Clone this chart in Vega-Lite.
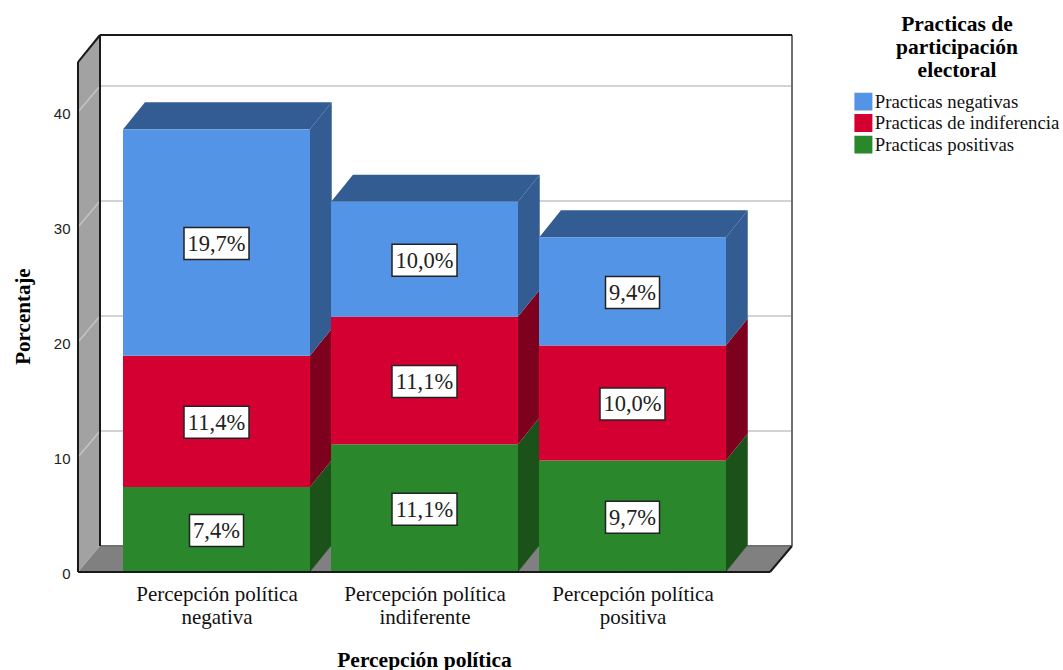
{
"$schema":"https://vega.github.io/schema/vega-lite/v6.json",
"width":714,"height":537,
"autosize":"none",
"padding":{"left":78,"top":35,"right":271,"bottom":98},
"background":"white",
"config":{"view":{"stroke":null}},
"datasets":{
"barras":[
{"orden":1,"percepcion":"Percepción política negativa","practica":"Practicas positivas","valor":7.4,"inicio":0,"fin":7.4,"centro":3.7,"etiqueta":"7,4%"},
{"orden":1,"percepcion":"Percepción política negativa","practica":"Practicas de indiferencia","valor":11.4,"inicio":7.4,"fin":18.8,"centro":13.1,"etiqueta":"11,4%"},
{"orden":1,"percepcion":"Percepción política negativa","practica":"Practicas negativas","valor":19.7,"inicio":18.8,"fin":38.5,"centro":28.65,"etiqueta":"19,7%"},
{"orden":2,"percepcion":"Percepción política indiferente","practica":"Practicas positivas","valor":11.1,"inicio":0,"fin":11.1,"centro":5.55,"etiqueta":"11,1%"},
{"orden":2,"percepcion":"Percepción política indiferente","practica":"Practicas de indiferencia","valor":11.1,"inicio":11.1,"fin":22.2,"centro":16.65,"etiqueta":"11,1%"},
{"orden":2,"percepcion":"Percepción política indiferente","practica":"Practicas negativas","valor":10.0,"inicio":22.2,"fin":32.2,"centro":27.2,"etiqueta":"10,0%"},
{"orden":3,"percepcion":"Percepción política positiva","practica":"Practicas positivas","valor":9.7,"inicio":0,"fin":9.7,"centro":4.85,"etiqueta":"9,7%"},
{"orden":3,"percepcion":"Percepción política positiva","practica":"Practicas de indiferencia","valor":10.0,"inicio":9.7,"fin":19.7,"centro":14.7,"etiqueta":"10,0%"},
{"orden":3,"percepcion":"Percepción política positiva","practica":"Practicas negativas","valor":9.4,"inicio":19.7,"fin":29.1,"centro":24.4,"etiqueta":"9,4%"}
],
"caras":[
{"cara":"pared","parte":"pared","x":0.3341,"y":0,"y2":44.35},
{"cara":"pared","parte":"pared","x":0.4399,"y":2.26,"y2":46.7},
{"cara":"suelo","parte":"suelo","x":0.3341,"y":0,"y2":0},
{"cara":"suelo","parte":"suelo","x":0.4399,"y":0,"y2":2.26},
{"cara":"suelo","parte":"suelo","x":3.6611,"y":0,"y2":2.26},
{"cara":"suelo","parte":"suelo","x":3.7668,"y":2.26,"y2":2.26},
{"cara":"l1p","parte":"Practicas positivas","x":1.449,"y":0,"y2":7.4},
{"cara":"l1p","parte":"Practicas positivas","x":1.554,"y":2.35,"y2":9.75},
{"cara":"l1i","parte":"Practicas de indiferencia","x":1.449,"y":7.4,"y2":18.8},
{"cara":"l1i","parte":"Practicas de indiferencia","x":1.554,"y":9.75,"y2":21.15},
{"cara":"l1n","parte":"Practicas negativas","x":1.449,"y":18.8,"y2":38.5},
{"cara":"l1n","parte":"Practicas negativas","x":1.554,"y":21.15,"y2":40.85},
{"cara":"l2p","parte":"Practicas positivas","x":2.449,"y":0,"y2":11.1},
{"cara":"l2p","parte":"Practicas positivas","x":2.554,"y":2.35,"y2":13.45},
{"cara":"l2i","parte":"Practicas de indiferencia","x":2.449,"y":11.1,"y2":22.2},
{"cara":"l2i","parte":"Practicas de indiferencia","x":2.554,"y":13.45,"y2":24.55},
{"cara":"l2n","parte":"Practicas negativas","x":2.449,"y":22.2,"y2":32.2},
{"cara":"l2n","parte":"Practicas negativas","x":2.554,"y":24.55,"y2":34.55},
{"cara":"l3p","parte":"Practicas positivas","x":3.449,"y":0,"y2":9.7},
{"cara":"l3p","parte":"Practicas positivas","x":3.554,"y":2.35,"y2":12.05},
{"cara":"l3i","parte":"Practicas de indiferencia","x":3.449,"y":9.7,"y2":19.7},
{"cara":"l3i","parte":"Practicas de indiferencia","x":3.554,"y":12.05,"y2":22.05},
{"cara":"l3n","parte":"Practicas negativas","x":3.449,"y":19.7,"y2":29.1},
{"cara":"l3n","parte":"Practicas negativas","x":3.554,"y":22.05,"y2":31.45},
{"cara":"t1","parte":"Practicas negativas","x":0.551,"y":38.5,"y2":38.5},
{"cara":"t1","parte":"Practicas negativas","x":0.656,"y":38.5,"y2":40.85},
{"cara":"t1","parte":"Practicas negativas","x":1.449,"y":38.5,"y2":40.85},
{"cara":"t1","parte":"Practicas negativas","x":1.554,"y":40.85,"y2":40.85},
{"cara":"t2","parte":"Practicas negativas","x":1.551,"y":32.2,"y2":32.2},
{"cara":"t2","parte":"Practicas negativas","x":1.656,"y":32.2,"y2":34.55},
{"cara":"t2","parte":"Practicas negativas","x":2.449,"y":32.2,"y2":34.55},
{"cara":"t2","parte":"Practicas negativas","x":2.554,"y":34.55,"y2":34.55},
{"cara":"t3","parte":"Practicas negativas","x":2.551,"y":29.1,"y2":29.1},
{"cara":"t3","parte":"Practicas negativas","x":2.656,"y":29.1,"y2":31.45},
{"cara":"t3","parte":"Practicas negativas","x":3.449,"y":29.1,"y2":31.45},
{"cara":"t3","parte":"Practicas negativas","x":3.554,"y":31.45,"y2":31.45}
],
"lineas":[
{"linea":"g10","tipo":"rejilla","x":0.4399,"y":12.26},{"linea":"g10","tipo":"rejilla","x":3.7668,"y":12.26},
{"linea":"g20","tipo":"rejilla","x":0.4399,"y":22.26},{"linea":"g20","tipo":"rejilla","x":3.7668,"y":22.26},
{"linea":"g30","tipo":"rejilla","x":0.4399,"y":32.26},{"linea":"g30","tipo":"rejilla","x":3.7668,"y":32.26},
{"linea":"g40","tipo":"rejilla","x":0.4399,"y":42.26},{"linea":"g40","tipo":"rejilla","x":3.7668,"y":42.26},
{"linea":"d10","tipo":"rejilla","x":0.3341,"y":10},{"linea":"d10","tipo":"rejilla","x":0.4399,"y":12.26},
{"linea":"d20","tipo":"rejilla","x":0.3341,"y":20},{"linea":"d20","tipo":"rejilla","x":0.4399,"y":22.26},
{"linea":"d30","tipo":"rejilla","x":0.3341,"y":30},{"linea":"d30","tipo":"rejilla","x":0.4399,"y":32.26},
{"linea":"d40","tipo":"rejilla","x":0.3341,"y":40},{"linea":"d40","tipo":"rejilla","x":0.4399,"y":42.26},
{"linea":"fondo","tipo":"gris","x":0.4399,"y":2.26},{"linea":"fondo","tipo":"gris","x":3.7668,"y":2.26},
{"linea":"der","tipo":"gris","x":3.7668,"y":2.26},{"linea":"der","tipo":"gris","x":3.7668,"y":46.7},
{"linea":"sup","tipo":"negro","x":0.4399,"y":46.7},{"linea":"sup","tipo":"negro","x":3.7668,"y":46.7},
{"linea":"izq","tipo":"negro","x":0.4399,"y":2.26},{"linea":"izq","tipo":"negro","x":0.4399,"y":46.7},
{"linea":"front","tipo":"negro","x":0.3341,"y":0},{"linea":"front","tipo":"negro","x":0.3341,"y":44.35},
{"linea":"diag","tipo":"negro","x":0.3341,"y":44.35},{"linea":"diag","tipo":"negro","x":0.4399,"y":46.7},
{"linea":"dder","tipo":"negro","x":3.6611,"y":0},{"linea":"dder","tipo":"negro","x":3.7668,"y":2.26}
],
"base":[{"x":0.3341,"y":0},{"x":3.6611,"y":0}]
},
"layer":[
{"data":{"name":"caras"},"transform":[{"filter":"datum.cara=='pared'||datum.cara=='suelo'"}],
 "mark":{"type":"area"},
 "encoding":{
  "x":{"field":"x","type":"quantitative","scale":{"domain":[0.3341,3.7668],"nice":false,"zero":false,"padding":0},
    "axis":{"values":[1,2,3],"title":"Percepción política","titleFont":"Liberation Serif","titleFontSize":21.5,"titleFontWeight":"bold","titleColor":"#000","titleY":88,"titleX":346,"titleAnchor":"middle","titleBaseline":"middle",
      "labelExpr":"datum.value==1?['Percepción política','negativa']:datum.value==2?['Percepción política','indiferente']:['Percepción política','positiva']",
      "labelFont":"Liberation Serif","labelFontSize":21,"labelColor":"#111","labelLineHeight":23,"labelPadding":11,"labelBaseline":"top","ticks":false,"domain":false,"grid":false,"labelOverlap":false,"labelFlush":false,"labelLimit":300}},
  "y":{"field":"y","type":"quantitative","scale":{"domain":[0,46.7],"nice":false,"zero":false},
    "axis":{"values":[0,10,20,30,40],"title":"Porcentaje","titleFont":"Liberation Serif","titleFontSize":21,"titleFontWeight":"bold","titleColor":"#000","titleX":-45,"titleY":281,"titleAnchor":"middle",
      "labelFont":"Liberation Sans","labelFontSize":15,"labelColor":"#222","labelPadding":8,"labelOffset":1,"ticks":false,"domain":false,"grid":false,"format":"d"}},
  "y2":{"field":"y2"},
  "detail":{"field":"cara"},
  "fill":{"field":"parte","type":"nominal","scale":{"domain":["pared","suelo","Practicas negativas","Practicas de indiferencia","Practicas positivas"],"range":["#A2A2A2","#808080","#335C92","#7E001F","#1A5219"]},"legend":null}
 }},
{"data":{"name":"lineas"},"transform":[{"filter":"datum.tipo=='rejilla'"}],
 "mark":{"type":"line","strokeWidth":1.5,"interpolate":"linear"},
 "encoding":{
  "x":{"field":"x","type":"quantitative","scale":{"domain":[0.3341,3.7668],"nice":false,"zero":false,"padding":0}},
  "y":{"field":"y","type":"quantitative","scale":{"domain":[0,46.7],"nice":false,"zero":false}},
  "detail":{"field":"linea"},
  "stroke":{"field":"tipo","type":"nominal","scale":{"domain":["rejilla","gris","negro"],"range":["#C4C4C4","#707070","#1A1A1A"]},"legend":null}
 }},
{"data":{"name":"lineas"},"transform":[{"filter":"datum.tipo!='rejilla'"}],
 "mark":{"type":"line","strokeWidth":2,"interpolate":"linear"},
 "encoding":{
  "x":{"field":"x","type":"quantitative","scale":{"domain":[0.3341,3.7668],"nice":false,"zero":false,"padding":0}},
  "y":{"field":"y","type":"quantitative","scale":{"domain":[0,46.7],"nice":false,"zero":false}},
  "detail":{"field":"linea"},
  "stroke":{"field":"tipo","type":"nominal","scale":{"domain":["rejilla","gris","negro"],"range":["#C4C4C4","#707070","#1A1A1A"]},"legend":null}
 }},
{"data":{"name":"caras"},"transform":[{"filter":"datum.cara!='pared'&&datum.cara!='suelo'"}],
 "mark":{"type":"area"},
 "encoding":{
  "x":{"field":"x","type":"quantitative","scale":{"domain":[0.3341,3.7668],"nice":false,"zero":false,"padding":0}},
  "y":{"field":"y","type":"quantitative","scale":{"domain":[0,46.7],"nice":false,"zero":false}},
  "y2":{"field":"y2"},
  "detail":{"field":"cara"},
  "fill":{"field":"parte","type":"nominal","scale":{"domain":["pared","suelo","Practicas negativas","Practicas de indiferencia","Practicas positivas"],"range":["#A2A2A2","#808080","#335C92","#7E001F","#1A5219"]},"legend":null}
 }},
{"data":{"name":"barras"},
 "mark":{"type":"bar","width":187},
 "encoding":{
  "x":{"field":"orden","type":"quantitative","scale":{"domain":[0.3341,3.7668],"nice":false,"zero":false,"padding":0}},
  "y":{"field":"inicio","type":"quantitative","scale":{"domain":[0,46.7],"nice":false,"zero":false}},
  "y2":{"field":"fin"},
  "color":{"field":"practica","type":"nominal","scale":{"domain":["Practicas negativas","Practicas de indiferencia","Practicas positivas"],"range":["#5394E6","#D50032","#2B872B"]},
    "legend":{"orient":"none","legendX":776,"legendY":-21,"title":["Practicas de","participación","electoral"],"titleFont":"Liberation Serif","titleFontSize":21.5,"titleFontWeight":"bold","titleColor":"#000","titleAlign":"center","titleAnchor":"middle","titleLineHeight":23,"titlePadding":11,"labelFont":"Liberation Serif","labelFontSize":18.8,"labelColor":"#111","labelOffset":2,"labelLimit":220,"symbolType":"square","symbolSize":324,"symbolStrokeWidth":0,"symbolOpacity":1,"rowPadding":2.5,"clipHeight":18}}
 }},
{"data":{"name":"base"},"mark":{"type":"line","strokeWidth":2,"color":"#1A1A1A"},
 "encoding":{
  "x":{"field":"x","type":"quantitative","scale":{"domain":[0.3341,3.7668],"nice":false,"zero":false,"padding":0}},
  "y":{"field":"y","type":"quantitative","scale":{"domain":[0,46.7],"nice":false,"zero":false}}
 }},
{"data":{"name":"barras"},"transform":[{"filter":"length(datum.etiqueta)==5"}],
 "mark":{"type":"rect","width":65,"height":32,"fill":"white","stroke":"#222","strokeWidth":1.5,"yOffset":1},
 "encoding":{
  "x":{"field":"orden","type":"quantitative","scale":{"domain":[0.3341,3.7668],"nice":false,"zero":false,"padding":0}},
  "y":{"field":"centro","type":"quantitative","scale":{"domain":[0,46.7],"nice":false,"zero":false}}
 }},
{"data":{"name":"barras"},"transform":[{"filter":"length(datum.etiqueta)==4"}],
 "mark":{"type":"rect","width":54,"height":32,"fill":"white","stroke":"#222","strokeWidth":1.5,"yOffset":1},
 "encoding":{
  "x":{"field":"orden","type":"quantitative","scale":{"domain":[0.3341,3.7668],"nice":false,"zero":false,"padding":0}},
  "y":{"field":"centro","type":"quantitative","scale":{"domain":[0,46.7],"nice":false,"zero":false}}
 }},
{"data":{"name":"barras"},
 "mark":{"type":"text","font":"Liberation Serif","fontSize":22.5,"color":"#222","baseline":"middle","align":"center","dy":1.5},
 "encoding":{
  "x":{"field":"orden","type":"quantitative","scale":{"domain":[0.3341,3.7668],"nice":false,"zero":false,"padding":0}},
  "y":{"field":"centro","type":"quantitative","scale":{"domain":[0,46.7],"nice":false,"zero":false}},
  "text":{"field":"etiqueta","type":"nominal"}
 }}
]
}
